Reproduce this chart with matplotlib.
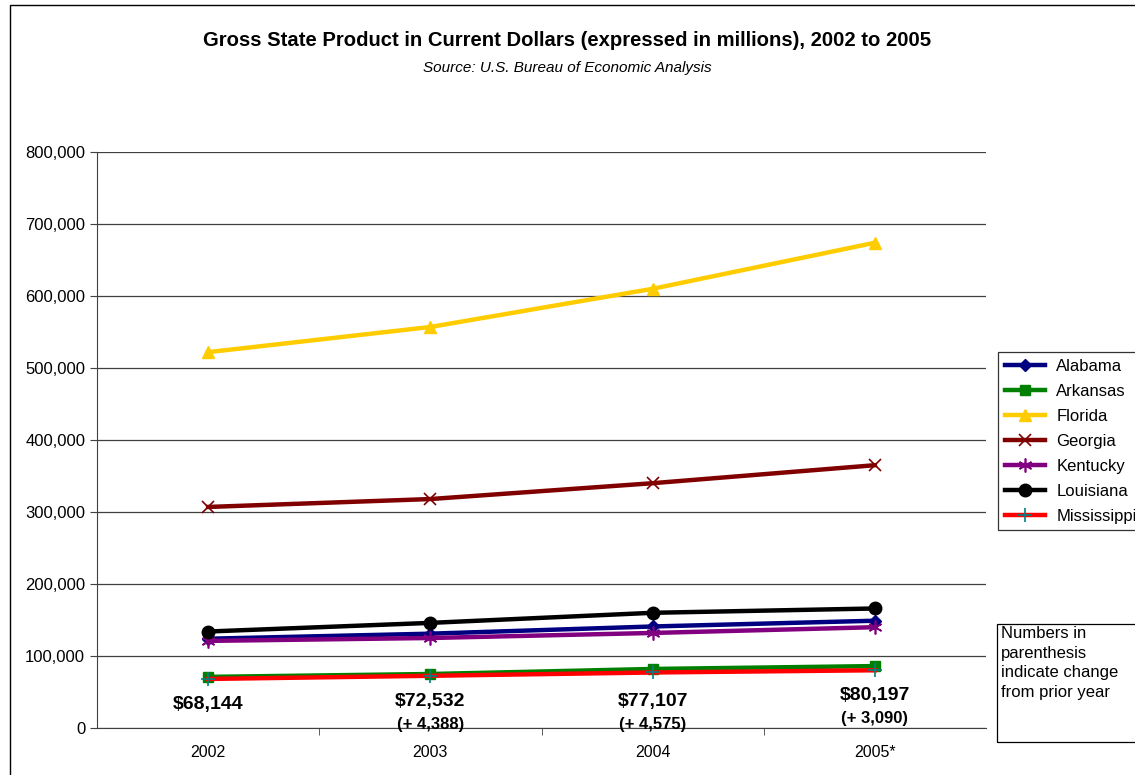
import numpy as np
import matplotlib.pyplot as plt
from matplotlib.patches import Rectangle

plt.rcParams['font.family'] = ['Liberation Sans', 'DejaVu Sans']

years = ["2002", "2003", "2004", "2005*"]
alabama = [124000, 131000, 141000, 149000]
arkansas = [71000, 75000, 82000, 86000]
florida = [522000, 557000, 610000, 674000]
georgia = [307000, 318000, 340000, 365000]
kentucky = [121000, 125000, 132000, 140000]
louisiana = [134000, 146000, 160000, 166000]
mississippi = [68144, 72532, 77107, 80197]
miss_labels = ["$68,144", "$72,532", "$77,107", "$80,197"]
miss_changes = ["", "(+ 4,388)", "(+ 4,575)", "(+ 3,090)"]

series = [
    ("Alabama", alabama, "#000080", "D", 6),
    ("Arkansas", arkansas, "#008000", "s", 7),
    ("Florida", florida, "#FFCC00", "^", 9),
    ("Georgia", georgia, "#800000", "x", 9),
    ("Kentucky", kentucky, "#800080", (6, 2, 0), 10),
    ("Louisiana", louisiana, "#000000", "o", 9),
    ("Mississippi", mississippi, "#FF0000", "+", 10),
]

W, H = 1135, 775
fig = plt.figure(figsize=(W / 100, H / 100), dpi=100)
ax = fig.add_axes([97 / W, 47 / H, 889 / W, 576 / H])

x = np.arange(len(years))
for name, vals, col, mk, ms in series:
    if name == "Mississippi":
        ax.plot(x, vals, color=col, lw=3.2, marker=mk, ms=ms, mew=1.2,
                mec="#008080", label=name, zorder=3)
    elif mk == "x" or isinstance(mk, tuple):
        ax.plot(x, vals, color=col, lw=3.2, marker=mk, ms=ms, mew=1.2,
                mec=col, label=name, zorder=3)
    else:
        ax.plot(x, vals, color=col, lw=3.2, marker=mk, ms=ms, mec=col,
                label=name, zorder=3)

ax.set_xlim(-0.5, 3.5)
ax.set_ylim(0, 800000)
ax.set_yticks(np.arange(0, 800001, 100000))
ax.set_yticklabels([f"{v:,}" for v in range(0, 800001, 100000)], fontsize=12)
ax.set_xticks(x)
ax.set_xticklabels(years, fontsize=11.5)
ax.set_xticks([0.5, 1.5, 2.5], minor=True)
ax.tick_params(axis="x", which="major", length=0, pad=12)
ax.tick_params(axis="x", which="minor", length=5, color="#404040")
ax.tick_params(axis="y", length=5, color="#404040")
ax.grid(axis="y", color="#404040", lw=0.9)
ax.set_axisbelow(True)
for s in ["top", "right"]:
    ax.spines[s].set_visible(False)
for s in ["left", "bottom"]:
    ax.spines[s].set_color("#404040")

# Mississippi value labels
lab_y = [33000, 37000, 37000, 45000]
for i in range(len(years)):
    ax.text(x[i], lab_y[i], miss_labels[i], ha="center", va="center",
            fontsize=14, fontweight="bold")
    if miss_changes[i]:
        ax.text(x[i], lab_y[i] - 32000, miss_changes[i], ha="center",
                va="center", fontsize=12, fontweight="bold")

fig.text(0.5, 1 - 40 / H, "Gross State Product in Current Dollars (expressed in millions), 2002 to 2005",
         ha="center", va="center", fontsize=14.6, fontweight="bold")
fig.text(0.5, 1 - 68 / H, "Source: U.S. Bureau of Economic Analysis",
         ha="center", va="center", fontsize=11, style="italic")

leg = fig.legend(loc="upper left", bbox_to_anchor=(998 / W, 1 - 352 / H),
                 fontsize=12, frameon=True, fancybox=False, edgecolor="black",
                 borderpad=0.4, labelspacing=0.6, handlelength=2.4,
                 handletextpad=0.7, borderaxespad=0)
leg.get_frame().set_linewidth(0.9)

# note box
fig.patches.append(Rectangle((997 / W, 1 - 742 / H), 160 / W, 118 / H,
                             transform=fig.transFigure, fill=False,
                             ec="black", lw=0.9))
fig.text(1001 / W, 1 - 626 / H, "Numbers in\nparenthesis\nindicate change\nfrom prior year",
         ha="left", va="top", fontsize=12, linespacing=1.38)

# outer chart border
fig.patches.append(Rectangle((10 / W, -0.1), 1.2, 1 - 5 / H + 0.1,
                             transform=fig.transFigure, fill=False,
                             ec="black", lw=1.0))

fig.savefig("out.png", dpi=100)
